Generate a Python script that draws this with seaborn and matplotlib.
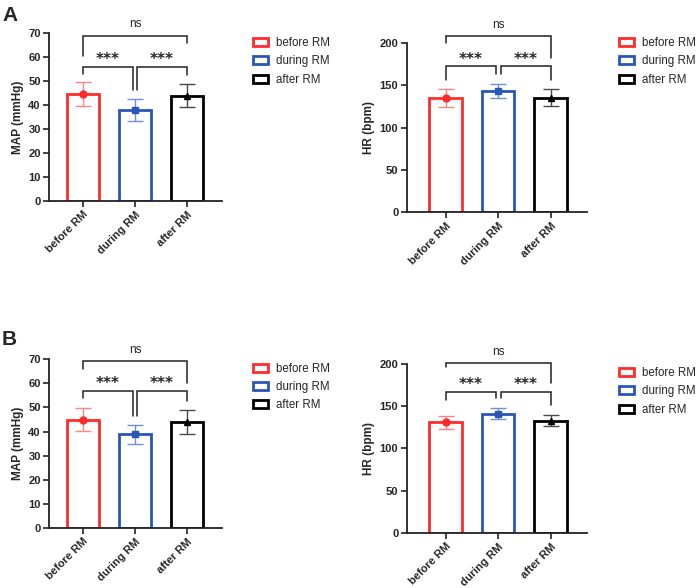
import numpy as np
import pandas as pd
import matplotlib
matplotlib.use('Agg')
import matplotlib.pyplot as plt
from matplotlib.patches import Patch
import seaborn as sns

# data (mean and SD)
phases = ['before RM', 'during RM', 'after RM']
map_a_mean = [44.5, 37.8, 43.8]
map_a_sd = [5.0, 4.5, 4.8]
hr_a_mean = [134.5, 143.5, 135.0]
hr_a_sd = [10.5, 8.5, 10.0]
map_b_mean = [45.0, 38.9, 44.0]
map_b_sd = [4.7, 3.9, 5.0]
hr_b_mean = [131.0, 141.0, 133.0]
hr_b_sd = [7.5, 6.5, 6.5]

colors = ['#FF2B2B', '#2A56B8', '#000000']
err_colors = ['#FF8585', '#7090D6', '#4A4A4A']
markers = ['o', 's', '^']

sns.set_style('ticks')
plt.rcParams['font.family'] = ['Liberation Sans', 'DejaVu Sans']

fig = plt.figure(figsize=(7, 5.88), dpi=100)


def draw_panel(rect, mean, sd, ylabel, ymax, ystep, xlim, brackets, leg_anchor):
    ax = fig.add_axes(rect)
    df = pd.DataFrame({'phase': phases, 'value': mean})
    sns.barplot(data=df, x='phase', y='value', hue='phase', palette=colors,
                fill=False, linewidth=2, width=0.62, errorbar=None,
                legend=False, ax=ax)
    for i in range(3):
        ax.errorbar(i, mean[i], yerr=sd[i], fmt=markers[i], color=err_colors[i],
                    mfc=colors[i], mec=colors[i], ms=5 if i < 2 else 4.5,
                    capsize=5.5, elinewidth=1, capthick=1, zorder=5)

    # significance brackets
    for x1, x2, top, lb, rb, label in brackets:
        ax.plot([x1, x1, x2, x2], [lb, top, top, rb], color='#222222',
                lw=1.1, clip_on=False, solid_joinstyle='miter')
        if label == 'ns':
            ax.annotate(label, ((x1 + x2) / 2, top), xytext=(0, 8),
                        textcoords='offset points', ha='center', va='center',
                        fontsize=8.5, annotation_clip=False)
        else:
            ax.annotate(label, ((x1 + x2) / 2, top), xytext=(0, 5),
                        textcoords='offset points', ha='center', va='center',
                        fontsize=11, fontweight='bold', family='DejaVu Sans',
                        annotation_clip=False)

    ax.set_ylim(0, ymax)
    ax.set_yticks(np.arange(0, ymax + 1, ystep))
    ax.set_xlim(*xlim)
    ax.set_xlabel('')
    ax.set_ylabel(ylabel, fontsize=8.5, fontweight='bold', labelpad=3)
    ax.set_xticks(range(3))
    ax.set_xticklabels(phases, rotation=45, ha='right', rotation_mode='anchor',
                       fontsize=8, fontweight='bold')
    for t in ax.get_yticklabels():
        t.set_fontweight('bold')
        t.set_fontsize(8)
    ax.tick_params(width=1.2, length=4, pad=2, color='#222222')
    for s in ['left', 'bottom']:
        ax.spines[s].set_linewidth(1.3)
        ax.spines[s].set_color('#222222')
    sns.despine(ax=ax)

    handles = [Patch(facecolor='white', edgecolor=c, linewidth=2, label=p)
               for p, c in zip(phases, colors)]
    ax.legend(handles=handles, loc='upper left', bbox_to_anchor=leg_anchor,
              bbox_transform=fig.transFigure, frameon=False, fontsize=8.3,
              handlelength=1.3, handleheight=0.7, handletextpad=0.7,
              labelspacing=0.55, borderpad=0, borderaxespad=0)
    return ax


draw_panel([0.070, 0.658, 0.247, 0.286], map_a_mean, map_a_sd, 'MAP (mmHg)', 70, 10,
           (-0.654, 2.673),
           [(0, 2, 68.9, 60.5, 65.8, 'ns'),
            (0, 0.96, 56.0, 53.0, 46.3, '***'),
            (1.04, 2, 56.0, 46.3, 52.5, '***')],
           (0.361, 0.937))
draw_panel([0.581, 0.639, 0.257, 0.288], hr_a_mean, hr_a_sd, 'HR (bpm)', 200, 50,
           (-0.743, 2.686),
           [(0, 2, 208.3, 199.6, 182.0, 'ns'),
            (0, 0.95, 172.8, 156.2, 163.3, '***'),
            (1.05, 2, 172.8, 163.3, 156.2, '***')],
           (0.884, 0.937))
draw_panel([0.070, 0.102, 0.247, 0.287], map_b_mean, map_b_sd, 'MAP (mmHg)', 70, 10,
           (-0.654, 2.673),
           [(0, 2, 69.3, 65.9, 60.2, 'ns'),
            (0, 0.96, 56.9, 53.9, 46.4, '***'),
            (1.04, 2, 56.9, 46.4, 52.6, '***')],
           (0.361, 0.383))
draw_panel([0.581, 0.0935, 0.257, 0.2875], hr_b_mean, hr_b_sd, 'HR (bpm)', 200, 50,
           (-0.743, 2.686),
           [(0, 2, 201.5, 196.8, 177.5, 'ns'),
            (0, 0.95, 167.2, 157.4, 160.0, '***'),
            (1.05, 2, 167.2, 160.0, 151.5, '***')],
           (0.884, 0.376))

fig.text(0.003, 1 - 21 / 588, 'A', fontsize=15, fontweight='bold', va='baseline')
fig.text(0.003, 1 - 345 / 588, 'B', fontsize=15, fontweight='bold', va='baseline')

fig.savefig('out.png', dpi=100)
